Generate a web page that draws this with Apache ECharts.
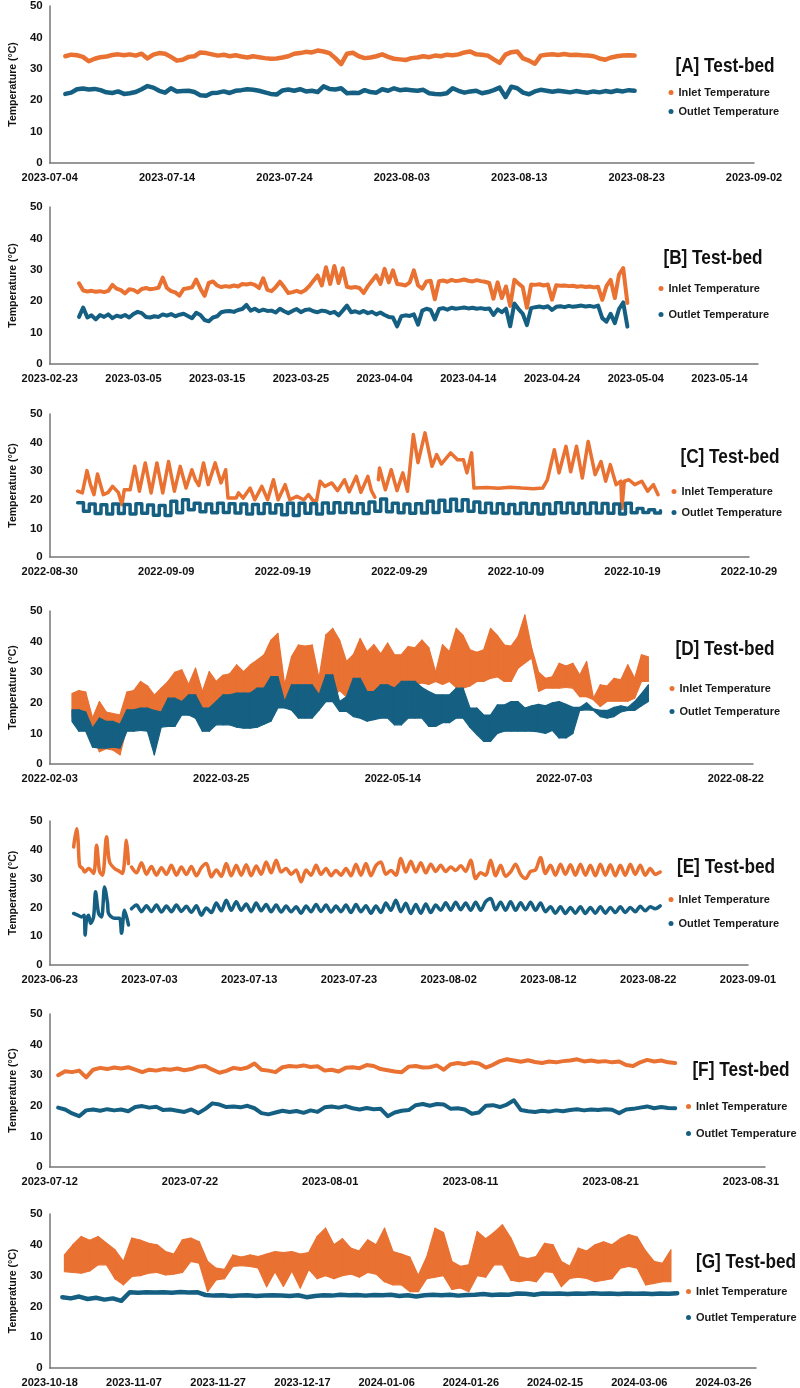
<!DOCTYPE html>
<html>
<head>
<meta charset="utf-8">
<script src="https://cdn.jsdelivr.net/npm/echarts@6/dist/echarts.min.js"></script>
<style>
html,body{margin:0;padding:0;background:#fff;}
#chart{width:800px;height:1388px;}
</style>
</head>
<body>
<div id="chart"></div>
<script>
// ---------- DATA ----------
// x values are days counted from each panel's first tick date
// Panel A (2023-07-04 .. 2023-09-02)
const aTicks = ['2023-07-04','2023-07-14','2023-07-24','2023-08-03','2023-08-13','2023-08-23','2023-09-02'];
const aStart = 1.33, aStep = 0.5;
const aInlet = [34.0,34.5,34.3,33.8,32.4,33.2,33.7,33.9,34.4,34.6,
 34.3,34.6,34.2,34.8,33.3,34.5,35.0,34.8,33.8,32.6,
 32.9,33.8,34.0,35.2,35.0,34.6,34.2,34.5,34.0,34.3,
 33.9,33.6,34.0,33.7,33.4,33.2,33.3,33.6,34.0,34.8,
 35.0,35.4,35.2,35.8,35.5,35.0,33.4,31.5,34.8,35.1,
 34.0,33.4,33.6,34.0,34.6,33.8,33.2,33.0,32.8,33.4,
 33.6,34.0,33.7,34.2,34.0,34.5,34.3,34.6,35.2,35.5,
 34.6,34.5,34.2,33.0,31.9,34.5,35.3,35.5,33.3,32.6,
 31.6,34.2,34.5,34.6,34.4,34.7,34.4,34.5,34.3,34.2,
 34.0,33.3,32.9,33.6,34.0,34.2,34.3,34.2];
const aOutlet = [22.0,22.4,23.5,23.7,23.4,23.6,23.2,22.5,22.3,22.8,
 22.0,22.2,22.6,23.5,24.5,24.0,23.0,22.4,23.8,22.8,
 22.9,23.0,22.6,21.6,21.4,22.3,22.4,22.8,22.3,23.0,
 23.2,23.5,23.3,23.0,22.5,22.0,21.8,23.1,23.4,23.0,
 23.5,22.8,23.0,22.6,24.4,23.6,23.4,23.8,22.2,22.4,
 22.3,23.2,22.6,22.4,23.5,23.0,23.8,23.2,23.4,23.2,
 23.0,23.3,22.2,22.0,21.9,22.2,23.8,23.0,22.4,22.8,
 23.0,22.2,22.6,23.2,24.0,21.0,24.3,23.8,22.4,21.9,
 22.8,23.3,23.0,22.7,23.0,22.8,22.5,22.9,22.6,22.4,
 22.8,22.5,22.9,22.6,23.1,22.8,23.2,23.0];

// Panel B (2023-02-23 ..)
const bTicks = ['2023-02-23','2023-03-05','2023-03-15','2023-03-25','2023-04-04','2023-04-14','2023-04-24','2023-05-04','2023-05-14'];
const bStart = 3.5, bStep = 0.5;
const bInlet = [25.7,23.4,23.1,23.3,23.0,23.2,22.9,23.3,25.2,24.0,
 23.5,22.5,23.8,23.6,22.8,23.9,24.2,23.8,24.0,24.3,
 27.5,24.2,23.2,22.8,21.8,23.9,24.1,24.4,26.9,24.0,
 21.7,25.8,26.3,25.0,24.5,24.8,24.6,25.0,24.7,25.5,
 25.3,25.6,25.2,24.2,27.3,23.6,23.2,24.5,26.2,24.5,
 22.6,22.9,23.3,22.8,23.5,24.8,26.5,28.2,25.0,30.8,
 25.5,31.2,25.8,30.5,24.6,24.3,24.5,24.2,22.6,24.8,
 26.5,28.2,25.5,30.3,26.0,29.8,25.5,25.3,25.0,26.0,
 29.8,25.0,24.0,26.3,26.5,20.6,26.4,26.6,26.2,26.8,
 26.4,26.6,26.9,26.5,26.3,26.7,26.4,26.2,25.8,20.8,
 26.0,21.0,24.7,18.5,26.8,25.6,24.5,17.9,25.3,25.2,
 25.4,25.0,25.3,20.5,25.1,24.9,25.0,24.8,24.9,24.6,
 24.8,24.5,24.7,24.4,24.6,20.4,24.8,26.8,21.0,28.5,
 30.5,19.4];
const bOutlet = [15.0,18.0,14.8,15.5,14.2,15.6,15.0,15.8,14.6,15.4,
 15.0,15.6,14.8,15.9,16.6,16.2,15.0,14.8,15.2,15.0,
 15.8,15.4,15.9,15.2,15.7,16.0,15.3,14.6,16.3,15.6,
 14.0,13.6,14.8,15.2,16.5,16.8,16.9,16.6,17.2,17.5,
 18.8,17.0,17.6,16.8,17.3,16.9,17.0,16.4,17.6,16.8,
 16.2,16.9,17.5,16.5,17.2,17.4,16.8,16.5,17.0,16.8,
 16.2,16.6,15.5,17.0,18.6,16.5,16.8,16.3,16.9,16.2,
 16.6,15.8,16.4,15.6,15.0,14.8,12.0,15.2,15.5,15.3,
 15.8,12.5,17.0,17.6,17.2,14.2,17.5,17.8,17.3,17.9,
 17.6,17.8,18.0,17.7,17.9,17.6,17.8,17.5,17.7,15.6,
 17.4,16.5,17.6,12.0,19.3,17.5,16.0,12.4,17.8,18.1,
 18.3,18.0,18.4,17.2,18.2,18.4,18.1,18.5,18.2,18.4,
 18.6,18.3,18.5,18.2,18.6,14.6,13.5,16.0,13.0,17.5,
 19.6,11.9];

// Panel C (2022-08-30 .. 2022-10-29)
const cTicks = ['2022-08-30','2022-09-09','2022-09-19','2022-09-29','2022-10-09','2022-10-19','2022-10-29'];
const cInlet = [[2.4,23],[2.8,22.4],[3.2,30.2],[3.5,25.3],[3.8,21.8],[4.1,29],[4.6,21.8],[5.0,22.5],[5.4,24.7],[5.9,22.5],[6.2,18.3],[6.4,23.5],[6.9,23.5],[7.3,31.7],[7.7,23],[8.2,32.9],[8.7,22.4],[9.2,32.9],[9.7,22.4],[10.2,33.4],[10.7,23],[11.2,31.7],[11.7,24.1],[12.2,30.5],[12.5,27],[12.8,25],[13.2,32.9],[13.6,25.3],[14.2,32.9],[14.7,25.9],[15.1,30.5],[15.3,20.6],[16.0,20.6],[16.2,22.4],[16.6,20.6],[17.2,24.1],[17.6,20],[18.2,24.7],[18.7,20],[19.2,27],[19.6,20],[20.2,25.3],[20.6,20],[21.2,21.2],[21.8,20],[22.2,21.8],[22.6,19.7],[22.9,19.7],[23.2,26.5],[23.6,24.7],[24.2,25.9],[24.7,23.2],[25.3,27],[25.7,22.8],[26.3,28.2],[26.7,22.6],[27.3,28.2],[27.6,23.2],[27.9,20.9],[28.05,'-'],[28.2,27],[28.3,31.1],[28.8,23.5],[29.3,30.5],[29.8,23.2],[30.3,29.4],[30.7,23],[31.2,42.8],[31.6,33],[32.2,43.4],[32.8,31.7],[33.2,35.8],[33.6,32.5],[34.4,36.4],[35.0,34],[35.5,34],[35.8,29.4],[36.2,36.4],[36.4,24.1],[37.5,24.3],[38.5,24.0],[39.5,24.4],[40.5,24.1],[41.5,23.9],[42.3,24.1],[42.7,27],[43.3,37.5],[43.7,29.4],[44.3,38.7],[44.7,29.8],[45.2,38.7],[45.7,27.6],[46.2,40.4],[46.8,28.8],[47.3,33.4],[47.7,26.5],[48.1,32.3],[48.6,25.3],[49.0,26.5],[49.1,17],[49.3,26.5],[49.7,27],[50.2,25.3],[50.8,26.5],[51.3,23],[51.8,25.3],[52.2,21.8]];
const cOutStart = 2.4, cOutStep = 0.5;
const cOutlet = [19.0,16.0,18.5,15.2,18.3,15.0,18.5,15.2,18.4,15.0,18.6,15.3,18.2,14.6,18.0,14.5,19.5,15.5,20.0,16.5,
 18.8,15.8,18.5,15.5,18.8,15.6,18.6,15.4,18.5,15.0,18.4,15.2,18.6,15.4,18.3,14.8,18.8,14.5,18.8,15.3,
 18.6,15.0,18.9,15.4,19.0,15.6,18.8,15.5,18.6,15.2,19.2,16.0,20.3,15.8,18.8,15.5,18.5,15.3,18.6,15.4,
 19.5,15.6,19.8,16.0,20.2,16.2,20.0,16.0,19.2,15.6,18.8,15.4,18.6,15.2,18.4,15.2,18.8,15.3,18.6,15.0,
 18.5,15.2,19.0,15.5,18.8,15.3,18.6,15.2,18.9,15.4,18.7,15.3,18.5,15.0,18.8,15.5,17.0,15.6,16.5,15.4,
 16.2];

// Panel D (2022-02-03 ..): daily readings from day 6, alternating daily low / daily high
const dTicks = ['2022-02-03','2022-03-25','2022-05-14','2022-07-03','2022-08-22'];
const dStart = 6, dStep = 1;
const dInlet = [15.5,23.0,15.0,24.0,15.5,23.5,9.0,15.0,4.0,20.4,
 5.0,17.0,4.5,16.5,3.0,16.0,12.0,23.5,13.0,24.0,
 14.0,27.0,15.0,25.5,14.0,22.5,14.5,24.8,15.0,27.0,
 16.0,30.0,17.0,30.8,16.0,26.0,17.0,31.3,15.0,23.7,
 14.0,30.2,14.0,27.0,15.0,29.0,15.0,29.5,16.0,32.4,
 15.0,30.2,16.0,32.4,15.0,34.0,16.0,35.7,17.0,40.5,
 19.0,42.7,20.0,25.9,22.6,35.1,20.0,38.9,18.0,38.5,
 18.0,38.9,22.0,28.0,21.0,42.2,22.0,44.3,24.0,40.5,
 22.0,33.5,20.0,35.7,19.0,41.0,19.0,36.7,18.0,39.0,
 18.0,36.0,18.0,39.5,17.0,35.7,18.0,35.7,26.0,38.4,
 26.0,38.0,26.5,40.5,26.0,38.0,27.0,30.0,26.0,39.0,
 27.0,36.7,25.0,44.3,24.8,42.0,25.5,37.3,27.0,36.5,
 27.0,37.3,28.0,44.3,28.5,42.0,27.0,38.9,27.0,38.5,
 31.3,41.6,33.0,48.7,34.6,37.8,23.7,30.0,24.8,28.0,
 24.8,28.5,24.8,32.9,25.0,32.0,24.8,32.9,22.0,29.1,
 22.0,33.5,21.0,21.5,18.8,25.9,20.5,25.5,20.5,28.0,
 20.5,27.5,20.5,32.4,21.5,28.0,27.0,35.7,27.0,35.0,
 28.0];
const dOutlet = [13.9,17.7,10.7,17.7,10.7,17.0,5.5,11.7,5.2,15.0,
 5.2,13.9,5.5,13.9,5.2,13.0,10.7,17.7,10.7,17.7,
 11.0,18.3,10.7,18.3,3.0,17.5,12.0,17.0,12.3,21.5,
 12.3,21.5,16.0,20.4,16.0,22.6,15.0,22.6,10.7,18.3,
 10.7,18.3,12.8,20.4,12.8,22.6,12.8,22.6,12.0,23.2,
 11.7,23.2,11.7,23.2,12.0,24.8,13.0,24.8,14.0,28.6,
 18.3,28.6,18.3,20.4,17.6,25.9,15.0,25.9,15.0,25.9,
 15.0,25.9,17.6,22.6,20.4,29.1,20.4,29.1,17.2,20.4,
 17.2,22.0,15.5,28.0,15.0,28.0,14.0,23.7,14.5,23.7,
 15.0,25.9,15.0,25.9,12.8,24.8,12.8,27.0,15.0,27.0,
 15.0,27.0,15.0,25.0,12.3,23.7,12.3,22.6,13.5,22.6,
 13.5,22.6,15.0,24.8,15.0,24.8,12.0,18.3,9.6,18.3,
 7.4,16.0,7.4,16.0,10.0,19.3,10.7,19.3,10.7,20.4,
 10.7,20.4,10.7,18.3,10.7,19.0,10.5,19.5,10.0,19.0,
 11.0,20.0,8.5,20.4,8.5,19.5,10.0,18.5,17.5,18.5,
 17.7,20.0,17.5,18.0,15.5,17.5,15.0,17.5,15.5,18.5,
 17.0,19.0,17.5,18.5,17.5,20.4,19.0,23.0,20.4,25.9,
 21.0];

// Panel E (2023-06-23 .. 2023-09-01)
const eTicks = ['2023-06-23','2023-07-03','2023-07-13','2023-07-23','2023-08-02','2023-08-12','2023-08-22','2023-09-01'];
const eInletEarly = [[2.4,41],[2.7,47.3],[2.85,43],[3.0,34.5],[3.3,33.5],[3.5,32.3],[3.9,33.5],[4.4,31.8],[4.7,41.6],[5.0,32.5],[5.3,31.2],[5.7,44.5],[6.0,35.8],[6.5,33.5],[7.0,32.5],[7.3,31.8],[7.7,43.3],[7.9,35.2]];
const eOutletEarly = [[2.4,17.9],[2.8,17.3],[3.2,16.7],[3.45,17.3],[3.55,10.4],[3.7,16.0],[3.9,17.3],[4.1,14.4],[4.4,16.7],[4.6,25.4],[4.9,17.9],[5.2,16.7],[5.5,27.1],[5.8,21.4],[5.9,17.9],[6.5,16.2],[7.0,16.2],[7.2,11.0],[7.5,19.0],[7.9,13.9]];
const eWaveStart = 8.2, eWaveStep = 0.5;
const eInletWave = [34.0,32.0,35.5,31.5,34.2,31.2,33.8,31.5,34.6,31.2,
 34.0,31.4,34.2,31.0,33.8,35.2,30.6,33.0,30.8,35.2,
 31.0,34.6,31.2,34.8,31.0,34.4,31.5,35.8,32.0,36.4,
 32.3,33.5,31.5,33.0,28.9,33.0,31.2,34.6,31.5,33.5,
 31.0,32.8,31.2,33.5,31.0,35.0,31.2,35.2,31.0,34.5,
 35.8,31.5,32.8,31.2,37.0,32.3,36.0,32.3,35.5,32.0,
 35.0,32.5,34.6,32.5,34.0,32.8,34.5,32.5,36.4,30.0,
 32.0,31.2,36.4,31.0,34.6,30.8,32.3,35.0,31.5,30.0,
 32.5,33.0,37.3,31.8,34.6,31.2,35.0,31.5,34.8,31.2,
 35.0,31.2,34.6,31.0,35.0,31.2,34.8,31.0,34.6,31.2,
 35.0,31.5,34.6,31.2,33.5,31.5,32.3];
const eOutletWave = [19.5,20.8,18.5,20.6,18.6,20.8,18.4,20.5,18.5,20.8,
 18.6,20.4,18.3,20.6,17.3,19.8,18.2,21.5,18.8,22.5,
 19.0,22.0,19.0,21.2,18.5,21.5,18.8,21.0,18.5,20.8,
 18.4,20.5,18.5,20.2,18.0,20.5,18.5,21.0,18.6,20.8,
 18.4,20.5,18.5,20.8,18.2,21.0,18.5,20.6,18.0,20.5,
 18.2,21.5,19.0,22.5,18.5,21.4,17.9,21.0,18.0,21.2,
 18.2,20.8,19.0,21.6,19.0,21.8,19.2,21.5,19.0,21.8,
 19.0,22.0,23.1,19.2,21.8,19.0,22.0,19.0,21.6,19.2,
 21.8,19.0,21.5,18.5,20.2,18.0,20.2,17.9,20.0,18.0,
 20.2,17.9,20.0,18.0,20.2,18.0,20.0,18.2,20.2,18.2,
 20.0,18.5,20.4,18.8,20.2,19.5,20.5];

// Panel F (2023-07-12 ..)
const fTicks = ['2023-07-12','2023-07-22','2023-08-01','2023-08-11','2023-08-21','2023-08-31'];
const fStart = 0.6, fStep = 0.5;
const fInlet = [30.0,31.3,31.0,31.5,29.3,31.8,32.4,32.0,32.5,32.2,
 32.6,31.8,31.0,31.8,31.5,32.0,31.8,32.2,31.6,32.0,
 32.8,33.0,31.8,30.8,31.4,32.4,32.0,32.5,33.8,31.8,
 31.5,31.0,32.6,33.0,32.8,33.2,32.7,32.9,31.5,31.8,
 31.2,32.4,32.6,32.3,33.3,33.0,32.0,31.6,31.2,31.0,
 32.8,33.0,32.5,32.6,33.2,31.8,33.6,34.0,33.6,34.2,
 33.8,32.5,33.4,34.6,35.2,34.8,34.4,34.9,34.3,34.0,
 34.5,34.2,34.6,34.8,35.2,34.5,34.8,34.4,34.6,34.2,
 34.5,33.3,33.0,34.2,35.0,34.5,34.8,34.2,34.0];
const fOutlet = [19.4,18.8,17.5,16.6,18.5,18.8,18.4,18.9,18.5,18.8,
 18.2,19.6,19.9,19.4,19.7,18.6,18.8,18.4,18.0,18.8,
 17.6,19.0,20.8,20.4,19.6,19.8,19.5,20.0,19.2,17.6,
 17.2,17.8,18.4,18.0,18.3,17.7,18.5,18.0,19.5,19.8,
 19.4,19.9,19.2,18.8,19.3,18.9,19.0,16.6,17.8,18.4,
 18.6,20.2,20.6,20.0,20.6,20.4,19.0,19.2,18.8,17.4,
 17.8,20.0,20.2,19.6,20.4,21.8,18.6,18.2,18.0,18.4,
 18.1,18.5,18.2,18.6,18.9,18.5,18.8,18.6,18.9,18.7,
 17.6,18.8,19.0,19.4,19.8,19.2,19.6,19.3,19.2];

// Panel G (2023-10-18 ..): inlet alternates daily high / daily low from day 3
const gTicks = ['2023-10-18','2023-11-07','2023-11-27','2023-12-17','2024-01-06','2024-01-26','2024-02-15','2024-03-06','2024-03-26'];
const gInStart = 3, gInStep = 1;
const gInlet = [36.7,31.3,40.0,31.0,42.7,30.8,41.5,31.5,42.7,33.5,
 40.5,33.5,38.4,29.0,34.6,27.0,42.2,29.7,41.5,30.0,
 40.5,30.8,40.0,31.0,37.8,30.2,37.0,30.5,41.6,31.0,
 42.2,34.6,41.0,34.0,34.6,24.8,32.4,28.6,32.0,29.0,
 36.7,33.0,36.0,33.2,36.7,33.0,36.2,32.5,37.0,26.4,
 37.8,31.3,37.5,26.5,37.8,31.5,37.0,26.0,37.5,32.0,
 42.7,29.0,45.4,30.0,40.0,29.0,42.0,30.0,38.9,30.5,
 38.0,29.5,41.6,31.0,40.0,30.5,45.4,28.0,37.8,27.0,
 37.0,27.0,36.0,24.8,30.0,24.8,36.0,29.0,45.4,29.5,
 44.0,30.0,34.6,25.5,33.0,26.0,33.5,24.8,44.3,30.0,
 42.0,29.5,44.0,33.5,46.5,33.5,42.2,28.5,36.2,28.0,
 35.5,28.5,36.2,28.0,40.5,31.3,40.0,31.0,34.6,26.4,
 33.0,29.1,38.9,29.5,38.0,29.1,40.0,28.0,41.0,28.5,
 40.0,29.0,42.0,32.4,43.3,33.0,42.5,32.4,38.0,27.0,
 34.6,27.5,34.0,28.0,38.4,28.0,32.0];
const gOutStart = 3, gOutStep = 2;
const gOutlet = [23.0,22.6,23.2,22.4,22.8,22.2,22.6,21.8,24.6,24.4,
 24.6,24.5,24.6,24.4,24.7,24.5,24.6,23.7,23.5,23.6,
 23.4,23.5,23.6,23.4,23.5,23.6,23.5,23.4,23.6,23.0,
 23.4,23.6,23.5,23.8,23.6,23.7,23.5,23.7,23.6,23.8,
 23.4,23.6,23.2,23.6,23.8,23.6,23.8,23.5,23.7,23.8,
 24.0,23.7,23.9,23.8,24.2,24.1,23.8,24.2,24.1,24.2,
 24.0,24.2,24.1,24.3,24.1,24.2,24.0,24.2,24.1,24.2,
 24.0,24.2,24.1,24.3];

const panelNames = ['[A] Test-bed','[B] Test-bed','[C] Test-bed','[D] Test-bed','[E] Test-bed','[F] Test-bed','[G] Test-bed'];
const seriesNames = ['Inlet Temperature','Outlet Temperature'];

// ---------- LAYOUT / STYLE ----------
const ORANGE = '#E97132', BLUE = '#156082';
const AXIS = '#767676';
const FONT = '"Liberation Sans", Arial, sans-serif';

const panels = [
  {grid:{left:42,top:5,width:712,height:158},  max:60,    step:10, ticks:aTicks, title:[725,66],   leg:{left:668.5,top:87,gap:8}},
  {grid:{left:43,top:207,width:715,height:157},max:84.6,  step:10, ticks:bTicks, title:[713,258],  leg:{left:658.5,top:283,gap:15}},
  {grid:{left:43,top:414,width:706,height:143},max:60,    step:10, ticks:cTicks, title:[730,457],  leg:{left:671.5,top:486,gap:10}},
  {grid:{left:43,top:611,width:710,height:153},max:205,   step:50, ticks:dTicks, title:[725,649],  leg:{left:669.5,top:683,gap:12}},
  {grid:{left:41,top:821,width:707,height:144},max:70,    step:10, ticks:eTicks, title:[726,867],  leg:{left:668.5,top:894,gap:13}},
  {grid:{left:41,top:1014,width:724,height:153},max:51,   step:10, ticks:fTicks, title:[741,1070], leg:{left:686,top:1101,gap:16}},
  {grid:{left:41,top:1214,width:715,height:154},max:167.7,step:20, ticks:gTicks, title:[746,1262], leg:{left:686,top:1286,gap:15}}
];

function seq(start, step, vals){ return vals.map((v,i)=>[+(start+i*step).toFixed(3), v]); }

// pairs consecutive readings (low/high alternating) into [x, low, high] band samples
function bandSamples(start, step, vals, firstIsHigh){
  const out = [];
  for (let i = 0; i + 1 < vals.length; i += 2){
    const a = vals[i], b = vals[i+1];
    const lo = firstIsHigh ? b : a, hi = firstIsHigh ? a : b;
    out.push([+(start + (i + 0.5) * step).toFixed(3), Math.min(lo,hi), Math.max(lo,hi)]);
  }
  return out;
}

function line(name, color, idx, data, width, extra){
  return Object.assign({
    type:'line', name, xAxisIndex:idx, yAxisIndex:idx, data,
    showSymbol:false, symbol:'none', color, itemStyle:{color},
    lineStyle:{color, width, join:'round', cap:'round'},
    animation:false, z: name===seriesNames[1] ? 3 : 2
  }, extra || {});
}

function band(name, color, idx, samples){
  return {
    type:'custom', name, xAxisIndex:idx, yAxisIndex:idx, data:samples,
    color, itemStyle:{color}, animation:false, z: name===seriesNames[1] ? 3 : 2,
    encode:{x:0, y:[1,2]},
    renderItem:function(params, api){
      const i = params.dataIndex;
      if (i >= samples.length - 1) return null;
      const a = samples[i], b = samples[i+1];
      const pts = [api.coord([a[0],a[2]]), api.coord([b[0],b[2]]), api.coord([b[0],b[1]]), api.coord([a[0],a[1]])];
      return {type:'polygon', shape:{points:pts}, style:{fill:color, stroke:color, lineWidth:1.2, lineJoin:'round'}};
    }
  };
}

const series = [
  line(seriesNames[0], ORANGE, 0, seq(aStart,aStep,aInlet), 4.5),
  line(seriesNames[1], BLUE,   0, seq(aStart,aStep,aOutlet), 4.5),
  line(seriesNames[0], ORANGE, 1, seq(bStart,bStep,bInlet), 4),
  line(seriesNames[1], BLUE,   1, seq(bStart,bStep,bOutlet), 4),
  line(seriesNames[0], ORANGE, 2, cInlet, 3.5),
  line(seriesNames[1], BLUE,   2, seq(cOutStart,cOutStep,cOutlet), 3.5, {step:'end'}),
  band(seriesNames[0], ORANGE, 3, bandSamples(dStart,dStep,dInlet,false)),
  band(seriesNames[1], BLUE,   3, bandSamples(dStart,dStep,dOutlet,false)),
  line(seriesNames[0], ORANGE, 4, eInletEarly.concat([[8.05,'-']], seq(eWaveStart,eWaveStep,eInletWave)), 3.5, {smooth:0.3}),
  line(seriesNames[1], BLUE,   4, eOutletEarly.concat([[8.05,'-']], seq(eWaveStart,eWaveStep,eOutletWave)), 3.5, {smooth:0.3}),
  line(seriesNames[0], ORANGE, 5, seq(fStart,fStep,fInlet), 4),
  line(seriesNames[1], BLUE,   5, seq(fStart,fStep,fOutlet), 4),
  band(seriesNames[0], ORANGE, 6, bandSamples(gInStart,gInStep,gInlet,true)),
  line(seriesNames[1], BLUE,   6, seq(gOutStart,gOutStep,gOutlet), 4.5)
];

const option = {
  backgroundColor:'#fff',
  animation:false,
  grid: panels.map(p => p.grid),
  xAxis: panels.map((p,i) => ({
    type:'value', gridIndex:i, min:0, max:p.max, interval:p.step,
    axisLine:{show:true, onZero:false, lineStyle:{color:AXIS, width:1.5}},
    axisTick:{show:false}, splitLine:{show:false},
    axisLabel:{
      margin:9, color:'#111', fontSize:11, fontWeight:'bold', fontFamily:FONT,
      showMinLabel:true, showMaxLabel:true,
      formatter: v => { const k = Math.round(v/p.step); return Math.abs(v-k*p.step)<1e-6 ? (p.ticks[k]||'') : ''; }
    }
  })),
  yAxis: panels.map((p,i) => ({
    type:'value', gridIndex:i, min:0, max:50, interval:10,
    name:'Temperature (°C)', nameLocation:'middle', nameGap:27,
    nameTextStyle:{fontSize:10.5, fontWeight:'bold', color:'#111', fontFamily:FONT},
    axisLine:{show:true, lineStyle:{color:AXIS, width:1.5}},
    axisTick:{show:false}, splitLine:{show:false},
    axisLabel:{margin:7, color:'#111', fontSize:11.5, fontWeight:'bold', fontFamily:FONT}
  })),
  legend: panels.map(p => ({
    orient:'vertical', left:p.leg.left, top:p.leg.top, itemGap:p.leg.gap, padding:0,
    itemWidth:5, itemHeight:5, icon:'circle', selectedMode:false,
    data:seriesNames.slice(),
    textStyle:{fontSize:11, fontWeight:'bold', color:'#1a1a1a', fontFamily:FONT}
  })),
  graphic: panels.map((p,i) => ({
    type:'text', x:p.title[0], y:p.title[1], scaleX:0.82,
    style:{text:panelNames[i], fill:'#111', font:'bold 21px ' + FONT, textAlign:'center', textVerticalAlign:'middle'}
  })),
  series
};

const chart = echarts.init(document.getElementById('chart'), null, {renderer:'canvas'});
chart.setOption(option);
</script>
</body>
</html>
